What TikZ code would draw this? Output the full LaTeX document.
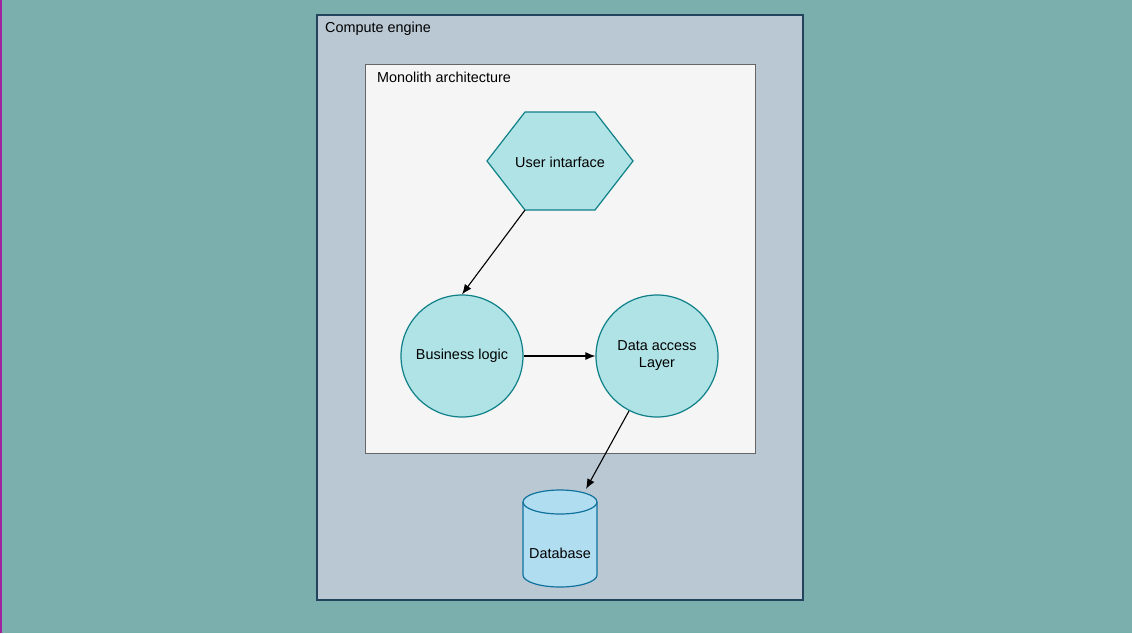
\documentclass[tikz,border=0pt]{standalone}
\usepackage{fontspec}
\setmainfont{Liberation Sans}
\usetikzlibrary{arrows.meta}
\definecolor{bgteal}{HTML}{7BAFAE}
\definecolor{outerfill}{HTML}{BAC8D3}
\definecolor{outerline}{HTML}{23445D}
\definecolor{innerfill}{HTML}{F5F5F5}
\definecolor{innerline}{HTML}{666666}
\definecolor{tealfill}{HTML}{B0E3E6}
\definecolor{tealline}{HTML}{0E8088}
\definecolor{bluefill}{HTML}{B1DDF0}
\definecolor{blueline}{HTML}{10739E}
\definecolor{edgepurple}{HTML}{A020A0}
\tikzset{
  lbl/.style={font=\fontsize{14.4}{17}\selectfont, text=black, inner sep=0pt},
  procnode/.style={circle, draw=tealline, fill=tealfill, line width=1.2pt, minimum size=122pt, inner sep=0pt, align=center, font=\fontsize{14.4}{17}\selectfont},
  conn/.style={-{Latex[length=10pt,width=8pt]}, line width=1.1pt, black},
}
\begin{document}
\begin{tikzpicture}[x=1pt,y=-1pt]
\useasboundingbox (0,0) rectangle (1132,633);
\fill[bgteal] (0,0) rectangle (1132,633);
\draw[edgepurple, line width=1.5pt] (0.75,0) -- (0.75,633);
% outer box
\draw[fill=outerfill, draw=outerline, line width=1.2pt] (317,15) rectangle (803,600);
\node[lbl, anchor=west] (computelbl) at (325,28.5) {Compute engine};
% inner box
\draw[fill=innerfill, draw=innerline, line width=1pt] (365,64) rectangle (755,453);
\node[lbl, anchor=west] (monolbl) at (377,77) {Monolith architecture};
% hexagon
\coordinate (hexbl) at (525,210);
\draw[fill=tealfill, draw=tealline, line width=1.2pt]
  (487,161) -- (525,112) -- (595,112) -- (633,161) -- (595,210) -- (hexbl) -- cycle;
\node[lbl] (ui) at (560,162) {User intarface};
% circles
\node[procnode] (bl) at (462,356) {Business logic};
\node[procnode] (da) at (657,356) {Data access\\Layer};
% cylinder
\draw[fill=bluefill, draw=blueline, line width=1.2pt]
  (523,502) -- (523,575) arc[start angle=180, end angle=360, x radius=37pt, y radius=12pt]
  -- (597,502) arc[start angle=0, end angle=180, x radius=37pt, y radius=12pt] -- cycle;
\draw[draw=blueline, line width=1.2pt] (523,502) arc[start angle=180, end angle=360, x radius=37pt, y radius=12pt];
\node[lbl] (db) at (560,553) {Database};
\coordinate (dbtop) at (586,489);
% connectors
\draw[conn] (hexbl) -- (bl.north);
\draw[conn] (bl.east) -- (da.west);
\draw[conn] (da.-117) -- (dbtop);
\end{tikzpicture}
\end{document}
